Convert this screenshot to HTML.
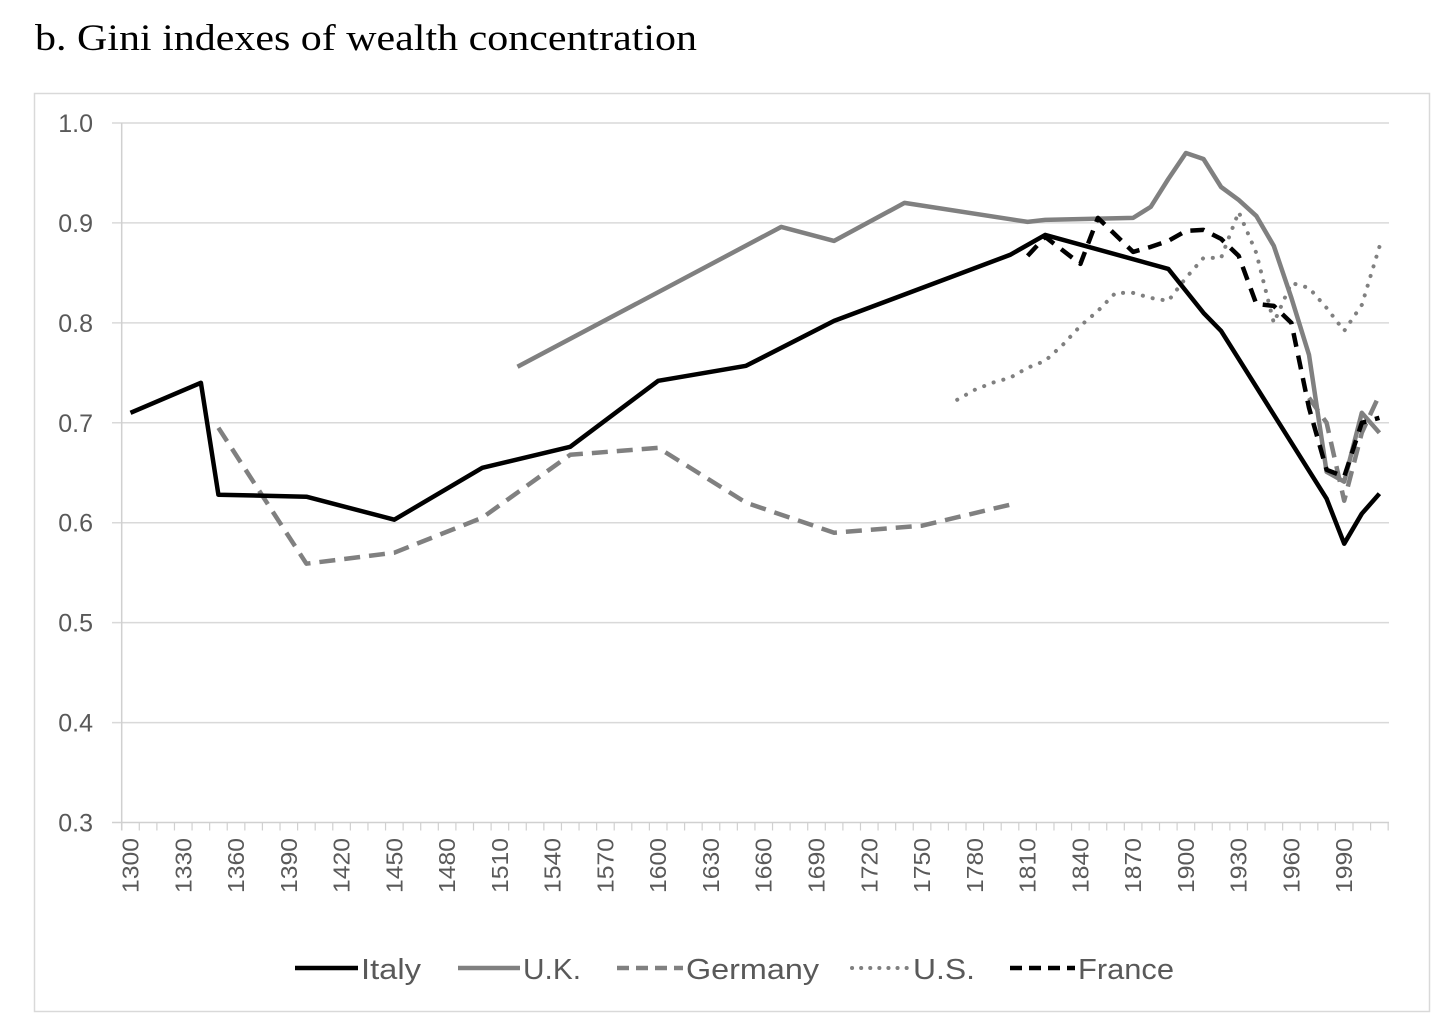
<!DOCTYPE html>
<html><head><meta charset="utf-8"><style>
html,body{margin:0;padding:0;background:#fff;width:1456px;height:1029px;overflow:hidden}
svg text{font-family:"Liberation Sans",sans-serif}
</style></head><body>
<svg id="chart" width="1456" height="1029" xmlns="http://www.w3.org/2000/svg">
<text x="35" y="50" font-size="37" fill="#000" textLength="662" lengthAdjust="spacingAndGlyphs" style="font-family:'Liberation Serif',serif">b. Gini indexes of wealth concentration</text>
<rect x="34.5" y="93.5" width="1395" height="918" fill="none" stroke="#d9d9d9" stroke-width="1.5"/>
<g id="grid"></g><g id="axes"></g><g id="series"></g><g id="legend"></g>
</svg>
<script>
const years = [];
for (let y = 1300; y <= 2010; y += 10) years.push(y);
const yTicks = [0.3,0.4,0.5,0.6,0.7,0.8,0.9,1.0];
const xLabels = [1300,1330,1360,1390,1420,1450,1480,1510,1540,1570,1600,1630,1660,1690,1720,1750,1780,1810,1840,1870,1900,1930,1960,1990];

const italyYears = [1300,1340,1350,1400,1450,1500,1550,1600,1650,1700,1800,1820,1890,1910,1920,1980,1990,2000,2010];
const italyVals  = [0.71,0.74,0.628,0.626,0.603,0.655,0.676,0.742,0.757,0.802,0.868,0.888,0.854,0.81,0.792,0.624,0.579,0.609,0.629];
const ukYears = [1520,1670,1700,1740,1810,1820,1870,1880,1890,1900,1910,1920,1930,1940,1950,1960,1970,1980,1990,2000,2010];
const ukVals  = [0.756,0.896,0.882,0.92,0.901,0.903,0.905,0.916,0.944,0.97,0.964,0.936,0.923,0.907,0.877,0.825,0.768,0.651,0.641,0.71,0.69];
const deYears1 = [1350,1400,1450,1500,1550,1600,1650,1700,1750,1800];
const deVals1  = [0.695,0.559,0.57,0.605,0.668,0.675,0.62,0.59,0.597,0.618];
const deYears2 = [1970,1980,1990,2000,2010];
const deVals2  = [0.725,0.70,0.622,0.69,0.728];
const usYears = [1770,1780,1790,1800,1810,1820,1830,1840,1850,1860,1870,1880,1890,1900,1910,1920,1930,1940,1950,1960,1970,1980,1990,2000,2010];
const usVals  = [0.723,0.733,0.74,0.745,0.755,0.762,0.778,0.797,0.812,0.83,0.83,0.825,0.822,0.845,0.865,0.865,0.911,0.87,0.80,0.84,0.835,0.815,0.792,0.818,0.876];
const frYears = [1810,1820,1840,1850,1870,1880,1890,1900,1910,1920,1930,1940,1950,1960,1970,1980,1990,2000,2010];
const frVals  = [0.867,0.886,0.859,0.905,0.871,0.876,0.882,0.892,0.893,0.884,0.867,0.819,0.817,0.80,0.715,0.653,0.646,0.70,0.705];

const NS = "http://www.w3.org/2000/svg";
const X0 = 121.7, CW = 17.59, YTOP = 123, YBOT = 822.5, VMIN = 0.3, VMAX = 1.0;
function xs(yr){ return X0 + CW*((yr-1300)/10 + 0.5); }
function ys(v){ return YBOT - (v-VMIN)/(VMAX-VMIN)*(YBOT-YTOP); }
function mk(tag, attrs, parent){ const e = document.createElementNS(NS, tag); for (const k in attrs) e.setAttribute(k, attrs[k]); parent.appendChild(e); return e; }

const grid = document.getElementById('grid');
const axes = document.getElementById('axes');
yTicks.forEach(v => {
  if (v > VMIN) {
    const l = mk('line', {x1:112, x2:1389, y1:ys(v), y2:ys(v), stroke:'#d9d9d9', 'stroke-width':1.5}, grid);
    
    
  }
  const t = mk('text', {x:93, y:ys(v)+9, 'text-anchor':'end', 'font-size':25, fill:'#595959'}, axes);
  t.textContent = v.toFixed(1);
  
  
});
const xa = mk('line', {x1:112, x2:1389, y1:YBOT, y2:YBOT, stroke:'#d0d0d0', 'stroke-width':1.5}, axes);


const ya = mk('line', {x1:X0, x2:X0, y1:YTOP, y2:YBOT+8, stroke:'#d0d0d0', 'stroke-width':1.5}, axes);


for (let i = 0; i <= years.length; i++) {
  const tk = mk('line', {x1:X0+CW*i, x2:X0+CW*i, y1:YBOT, y2:YBOT+8, stroke:'#d0d0d0', 'stroke-width':1.2}, axes);
  
  
}
xLabels.forEach(yr => {
  const x = xs(yr) + 8, y = 838;
  const t = mk('text', {x:x, y:y, 'text-anchor':'end', 'font-size':23, fill:'#595959', transform:`rotate(-90 ${x} ${y})`, textLength:55, lengthAdjust:'spacingAndGlyphs'}, axes);
  t.textContent = yr;
  
  
});

const ser = document.getElementById('series');
function line(yrs, vals, style, name){
  const d = yrs.map((y,i)=>(i?'L':'M')+xs(y).toFixed(1)+' '+ys(vals[i]).toFixed(1)).join(' ');
  const p = mk('path', Object.assign({d:d, fill:'none', 'stroke-linejoin':'round'}, style), ser);
  
  
}
const sUS = {stroke:'#808080','stroke-width':4,'stroke-dasharray':'0.1 10','stroke-linecap':'round'};
const sDE = {stroke:'#808080','stroke-width':4.5,'stroke-dasharray':'16 9'};
const sUK = {stroke:'#808080','stroke-width':4.5};
const sIT = {stroke:'#000','stroke-width':4.5};
const sFR = {stroke:'#000','stroke-width':4.5,'stroke-dasharray':'14 9'};
line(usYears, usVals, sUS, 'us-line');
line(deYears1, deVals1, sDE, 'germany-line-early');
line(deYears2, deVals2, sDE, 'germany-line-late');
line(ukYears, ukVals, sUK, 'uk-line');
line(italyYears, italyVals, sIT, 'italy-line');
line(frYears, frVals, sFR, 'france-line');

const leg = document.getElementById('legend');
const items = [['Italy',sIT,295,358],['U.K.',sUK,458,520],['Germany',sDE,617,683],['U.S.',sUS,852,910],['France',sFR,1010,1075]];
const lw = {'Italy':60,'U.K.':58,'Germany':133,'U.S.':62,'France':96};
items.forEach(it => {
  const st = Object.assign({}, it[1]);
  if (st['stroke-dasharray'] === '16 9') st['stroke-dasharray'] = '12 7';
  if (st['stroke-dasharray'] === '14 9') st['stroke-dasharray'] = '12 7';
  if (st['stroke-dasharray'] === '0.1 10') st['stroke-dasharray'] = '0.1 9';
  const l = mk('line', Object.assign({x1:it[2], x2:it[3], y1:968, y2:968}, st), leg);
  
  
  const t = mk('text', {x:it[3]+3, y:979, 'font-size':29, fill:'#595959', textLength:lw[it[0]], lengthAdjust:'spacingAndGlyphs'}, leg);
  t.textContent = it[0];
  
  
});
</script>
</body></html>
